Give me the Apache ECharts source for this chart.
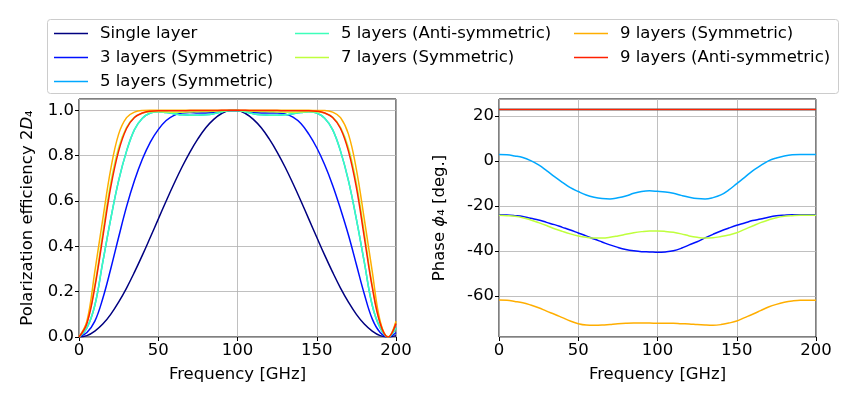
<!DOCTYPE html>
<html>
<head>
<meta charset="utf-8">
<script src="https://cdn.jsdelivr.net/npm/echarts@6/dist/echarts.min.js"></script>
<style>
  html, body { margin: 0; padding: 0; background: #fff; }
  #chart { width: 850px; height: 400px; }
</style>
</head>
<body>
<div id="chart"></div>
<script>
// Frequency samples [GHz], shared by every curve
const freq = [0, 5, 10, 15, 20, 25, 30, 35, 40, 45, 50, 55, 60, 65, 70, 75, 80, 85, 90, 95,
              100, 105, 110, 115, 120, 125, 130, 135, 140, 145, 150, 155, 160, 165, 170, 175, 180, 185, 190, 195, 200];

const names = ['Single layer', '3 layers (Symmetric)', '5 layers (Symmetric)',
               '5 layers (Anti-symmetric)', '7 layers (Symmetric)', '9 layers (Symmetric)',
               '9 layers (Anti-symmetric)'];
const colors = ['#000080', '#0010ff', '#00a8ff', '#3dffba', '#bfff3d', '#ffae00', '#ff2000'];

// Polarization efficiency 2D4 (left panel)
const effSingle = [0, 0.006, 0.026, 0.057, 0.100, 0.154, 0.216, 0.286, 0.361, 0.440, 0.520, 0.600, 0.677, 0.750, 0.816, 0.874, 0.923, 0.960, 0.986, 0.998,
                   0.998, 0.986, 0.960, 0.923, 0.874, 0.816, 0.750, 0.677, 0.600, 0.520, 0.440, 0.361, 0.286, 0.216, 0.154, 0.100, 0.057, 0.026, 0.006, 0, 0.006];
const eff3Sym = [0, 0.02, 0.07, 0.17, 0.30, 0.44, 0.575, 0.69, 0.785, 0.86, 0.915, 0.955, 0.978, 0.988, 0.99, 0.988, 0.988, 0.99, 0.995, 0.999,
                 0.999, 0.995, 0.99, 0.988, 0.988, 0.988, 0.984, 0.97, 0.942, 0.895, 0.835, 0.76, 0.67, 0.565, 0.45, 0.32, 0.19, 0.08, 0.02, 0, 0.02];
const eff5Sym = [0, 0.04, 0.14, 0.33, 0.52, 0.69, 0.82, 0.915, 0.965, 0.988, 0.994, 0.99, 0.985, 0.98, 0.978, 0.978, 0.98, 0.985, 0.993, 0.999,
                 0.999, 0.993, 0.985, 0.98, 0.978, 0.978, 0.98, 0.985, 0.99, 0.994, 0.988, 0.965, 0.915, 0.82, 0.69, 0.52, 0.33, 0.14, 0.04, 0, 0.04];
const eff5Anti = [0, 0.04, 0.14, 0.33, 0.52, 0.69, 0.82, 0.915, 0.965, 0.988, 0.994, 0.99, 0.985, 0.98, 0.978, 0.978, 0.98, 0.985, 0.993, 0.999,
                  0.999, 0.993, 0.985, 0.98, 0.978, 0.978, 0.98, 0.985, 0.99, 0.994, 0.988, 0.965, 0.915, 0.82, 0.69, 0.52, 0.33, 0.14, 0.04, 0, 0.04];
const eff7Sym = [0, 0.065, 0.23, 0.46, 0.68, 0.835, 0.925, 0.97, 0.988, 0.994, 0.995, 0.993, 0.992, 0.992, 0.993, 0.994, 0.995, 0.996, 0.998, 0.999,
                 0.999, 0.998, 0.996, 0.995, 0.994, 0.993, 0.992, 0.992, 0.993, 0.995, 0.994, 0.988, 0.97, 0.925, 0.835, 0.68, 0.46, 0.23, 0.065, 0, 0.065];
const eff9Sym = [0, 0.07, 0.29, 0.52, 0.74, 0.895, 0.968, 0.992, 0.999, 1.0, 1.0, 1.0, 1.0, 1.0, 1.0, 1.0, 1.0, 1.0, 1.0, 1.0,
                 1.0, 1.0, 1.0, 1.0, 1.0, 1.0, 1.0, 1.0, 1.0, 1.0, 0.999, 0.999, 0.992, 0.968, 0.895, 0.74, 0.52, 0.29, 0.07, 0, 0.07];
const eff9Anti = [0, 0.06, 0.22, 0.44, 0.66, 0.82, 0.92, 0.968, 0.988, 0.996, 0.998, 0.998, 0.998, 0.998, 0.999, 0.999, 0.999, 0.999, 1.0, 1.0,
                  1.0, 1.0, 0.999, 0.999, 0.999, 0.999, 0.998, 0.998, 0.998, 0.998, 0.996, 0.988, 0.968, 0.92, 0.82, 0.66, 0.44, 0.22, 0.06, 0, 0.06];

// Phase phi4 [deg.] (right panel)
const phSingle = [22.8, 22.8, 22.8, 22.8, 22.8, 22.8, 22.8, 22.8, 22.8, 22.8, 22.8, 22.8, 22.8, 22.8, 22.8, 22.8, 22.8, 22.8, 22.8, 22.8,
                  22.8, 22.8, 22.8, 22.8, 22.8, 22.8, 22.8, 22.8, 22.8, 22.8, 22.8, 22.8, 22.8, 22.8, 22.8, 22.8, 22.8, 22.8, 22.8, 22.8, 22.8];
const ph3Sym = [-23.9, -24.0, -24.3, -24.7, -25.5, -26.2, -27.3, -28.3, -29.5, -30.7, -32.0, -33.3, -34.7, -36.0, -37.3, -38.4, -39.3, -39.9, -40.3, -40.4,
                -40.6, -40.4, -39.9, -38.8, -37.3, -35.9, -34.2, -32.6, -31.1, -29.8, -28.6, -27.6, -26.5, -25.8, -25.0, -24.4, -24.1, -23.9, -23.9, -23.9, -23.9];
const ph5Sym = [2.8, 2.7, 2.2, 1.5, 0.1, -1.8, -4.3, -7.0, -9.5, -11.9, -13.6, -15.1, -16.1, -16.7, -16.9, -16.4, -15.6, -14.4, -13.6, -13.3,
                -13.5, -13.8, -14.4, -15.3, -16.1, -16.7, -16.9, -16.3, -15.1, -12.9, -10.1, -7.3, -4.4, -2.1, 0.0, 1.3, 2.2, 2.7, 2.8, 2.8, 2.8];
const ph5Anti = [22.8, 22.8, 22.8, 22.8, 22.8, 22.8, 22.8, 22.8, 22.8, 22.8, 22.8, 22.8, 22.8, 22.8, 22.8, 22.8, 22.8, 22.8, 22.8, 22.8,
                 22.8, 22.8, 22.8, 22.8, 22.8, 22.8, 22.8, 22.8, 22.8, 22.8, 22.8, 22.8, 22.8, 22.8, 22.8, 22.8, 22.8, 22.8, 22.8, 22.8, 22.8];
const ph7Sym = [-24.1, -24.3, -24.6, -25.2, -26.2, -27.4, -28.7, -30.1, -31.3, -32.4, -33.3, -33.9, -34.2, -34.2, -33.9, -33.3, -32.6, -31.9, -31.4, -31.1,
                -31.1, -31.3, -31.7, -32.4, -33.3, -33.9, -34.2, -34.1, -33.6, -32.9, -31.9, -30.4, -28.9, -27.4, -26.2, -25.2, -24.6, -24.3, -24.1, -24.1, -24.1];
const ph9Sym = [-61.8, -61.9, -62.4, -63.0, -64.0, -65.2, -66.7, -68.1, -69.6, -71.1, -72.3, -72.9, -73.0, -72.9, -72.6, -72.3, -72.1, -72.0, -72.0, -72.0,
                -72.1, -72.1, -72.1, -72.3, -72.4, -72.7, -72.9, -73.0, -72.7, -72.0, -71.1, -69.6, -68.1, -66.5, -64.9, -63.7, -62.8, -62.2, -61.9, -61.9, -61.9];
const ph9Anti = [22.8, 22.8, 22.8, 22.8, 22.8, 22.8, 22.8, 22.8, 22.8, 22.8, 22.8, 22.8, 22.8, 22.8, 22.8, 22.8, 22.8, 22.8, 22.8, 22.8,
                 22.8, 22.8, 22.8, 22.8, 22.8, 22.8, 22.8, 22.8, 22.8, 22.8, 22.8, 22.8, 22.8, 22.8, 22.8, 22.8, 22.8, 22.8, 22.8, 22.8, 22.8];

const effData = [effSingle, eff3Sym, eff5Sym, eff5Anti, eff7Sym, eff9Sym, eff9Anti];
const phData = [phSingle, ph3Sym, ph5Sym, ph5Anti, ph7Sym, ph9Sym, ph9Anti];

const freqTicks = 50;
const effTicks = 0.2;

const font = 'DejaVu Sans';
const fs = 16.5;
const chart = echarts.init(document.getElementById('chart'));

function xAxisFor(gridIndex) {
    return {
        type: 'value', gridIndex: gridIndex,
        min: 0, max: 200, interval: freqTicks,
        name: 'Frequency [GHz]', nameLocation: 'middle', nameGap: 29,
        nameTextStyle: { color: '#000', fontSize: fs, fontFamily: font },
        axisLine: { show: false, onZero: false },
        axisTick: { show: true, length: 4, lineStyle: { color: '#000' } },
        axisLabel: { color: '#000', fontSize: fs, fontFamily: font, margin: 5 },
        splitLine: { show: true, lineStyle: { color: '#b0b0b0', width: 0.8 } }
    };
}

function makeSeries(list, axisIndex) {
    return list.map((vals, i) => ({
        name: names[i],
        type: 'line',
        xAxisIndex: axisIndex, yAxisIndex: axisIndex,
        data: freq.map((f, j) => [f, vals[j]]),
        showSymbol: false,
        smooth: 0.4,
        color: colors[i],
        lineStyle: { width: 1.5, color: colors[i] },
        z: 2 + i
    }));
}

const legendBase = {
    orient: 'vertical', top: 24, padding: 0,
    icon: 'rect', itemWidth: 34, itemHeight: 1.5, itemGap: 5,
    textStyle: { color: '#000', fontSize: fs, fontFamily: font, lineHeight: 19, padding: [0, 0, 0, 7] }
};

const option = {
    animation: false,
    backgroundColor: '#fff',
    graphic: [{
        type: 'rect', z: 0,
        shape: { x: 47.5, y: 19.5, width: 791, height: 74, r: 3 },
        style: { fill: '#fff', stroke: '#cccccc', lineWidth: 1 }
    }],
    legend: [
        Object.assign({}, legendBase, { left: 54, data: names.slice(0, 3) }),
        Object.assign({}, legendBase, { left: 295, data: names.slice(3, 5) }),
        Object.assign({}, legendBase, { left: 574, data: names.slice(5, 7) })
    ],
    grid: [
        { left: 79, right: 454, top: 99, bottom: 63, show: true, borderColor: '#000', borderWidth: 1, backgroundColor: 'transparent' },
        { left: 499, right: 34, top: 99, bottom: 63, show: true, borderColor: '#000', borderWidth: 1, backgroundColor: 'transparent' }
    ],
    xAxis: [xAxisFor(0), xAxisFor(1)],
    yAxis: [
        {
            type: 'value', gridIndex: 0,
            min: 0, max: 1.05, interval: effTicks,
            name: 'Polarization efficiency 2{i|D}₄', nameLocation: 'middle', nameGap: 43,
            nameTextStyle: { color: '#000', fontSize: fs, fontFamily: font,
                rich: { i: { fontStyle: 'italic', fontSize: fs, fontFamily: font, color: '#000' } } },
            axisLine: { show: false, onZero: false },
            axisTick: { show: true, length: 4, lineStyle: { color: '#000' } },
            axisLabel: { color: '#000', fontSize: fs, fontFamily: font, margin: 5, showMaxLabel: false,
                formatter: v => v.toFixed(1) },
            splitLine: { show: true, lineStyle: { color: '#b0b0b0', width: 0.8 } }
        },
        {
            type: 'value', gridIndex: 1,
            min: -78.2, max: 27.5, splitNumber: 5,
            name: 'Phase {i|ϕ}₄ [deg.]', nameLocation: 'middle', nameGap: 51,
            nameTextStyle: { color: '#000', fontSize: fs, fontFamily: font,
                rich: { i: { fontStyle: 'italic', fontSize: fs, fontFamily: font, color: '#000' } } },
            axisLine: { show: false, onZero: false },
            axisTick: { show: true, length: 4, lineStyle: { color: '#000' } },
            axisLabel: { color: '#000', fontSize: fs, fontFamily: font, margin: 5, showMinLabel: false, showMaxLabel: false },
            splitLine: { show: true, lineStyle: { color: '#b0b0b0', width: 0.8 } }
        }
    ],
    series: makeSeries(effData, 0).concat(makeSeries(phData, 1))
};

chart.setOption(option);
</script>
</body>
</html>
